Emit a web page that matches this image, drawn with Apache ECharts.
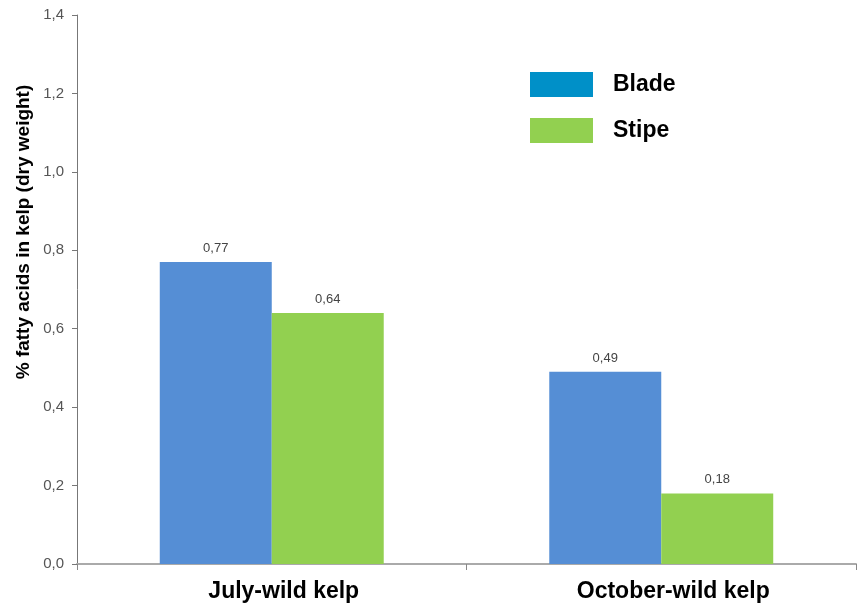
<!DOCTYPE html>
<html>
<head>
<meta charset="utf-8">
<script src="https://cdn.jsdelivr.net/npm/echarts@6/dist/echarts.min.js"></script>
<style>
html,body{margin:0;padding:0;background:#fff;}
#chart{width:866px;height:613px;}
</style>
</head>
<body>
<div id="chart"></div>
<script>
const categories = ['July-wild kelp', 'October-wild kelp'];
const bladeValues = [0.77, 0.49];
const stipeValues = [0.64, 0.18];
const seriesNames = ['Blade', 'Stipe'];
const yTicks = [0, 0.2, 0.4, 0.6, 0.8, 1.0, 1.2, 1.4];
const yTitle = '% fatty acids in kelp (dry weight)';

const fmt = v => v.toFixed(2).replace('.', ',');
const font = '"Liberation Sans", Arial, sans-serif';

const chart = echarts.init(document.getElementById('chart'));
chart.setOption({
  animation: false,
  textStyle: { fontFamily: font },
  grid: { left: 77, right: 10, top: 15, bottom: 49 },
  legend: {
    orient: 'vertical',
    left: 525,
    top: 67,
    itemWidth: 63,
    itemHeight: 25,
    itemGap: 21,
    icon: 'rect',
    textStyle: { fontSize: 23, fontWeight: 'bold', color: '#000', padding: [0, 0, 0, 15], fontFamily: font },
    data: [
      { name: seriesNames[0], itemStyle: { color: '#0090c8' } },
      { name: seriesNames[1], itemStyle: { color: '#92d050' } }
    ]
  },
  graphic: [{
    type: 'text',
    x: 24,
    y: 232,
    rotation: Math.PI / 2,
    style: {
      text: yTitle,
      fontSize: 19,
      fontWeight: 'bold',
      fill: '#000',
      fontFamily: font,
      align: 'center',
      verticalAlign: 'middle'
    }
  }],
  xAxis: {
    type: 'category',
    data: categories,
    axisLine: { lineStyle: { color: '#aaaaaa', width: 2 } },
    axisTick: { show: true, length: 6, lineStyle: { color: '#888888' } },
    axisLabel: { fontSize: 23, fontWeight: 'bold', color: '#000', margin: 16, padding: [0, 0, 0, 24], fontFamily: font }
  },
  yAxis: {
    type: 'value',
    min: yTicks[0],
    max: yTicks[yTicks.length - 1],
    interval: 0.2,
    axisLine: { show: true, lineStyle: { color: '#777777' } },
    axisTick: { show: true, length: 5, lineStyle: { color: '#777777' } },
    splitLine: { show: false },
    axisLabel: { fontSize: 15, color: '#555', margin: 13, formatter: v => v.toFixed(1).replace('.', ','), fontFamily: font }
  },
  series: [
    {
      name: seriesNames[0],
      type: 'bar',
      data: bladeValues,
      barGap: '0%',
      barCategoryGap: '42.5%',
      itemStyle: { color: '#558ed5' },
      label: { show: true, position: 'top', distance: 7, fontSize: 13, color: '#444', formatter: p => fmt(p.value), fontFamily: font }
    },
    {
      name: seriesNames[1],
      type: 'bar',
      data: stipeValues,
      barGap: '0%',
      barCategoryGap: '42.5%',
      itemStyle: { color: '#92d050' },
      label: { show: true, position: 'top', distance: 7, fontSize: 13, color: '#444', formatter: p => fmt(p.value), fontFamily: font }
    }
  ]
});
</script>
</body>
</html>
